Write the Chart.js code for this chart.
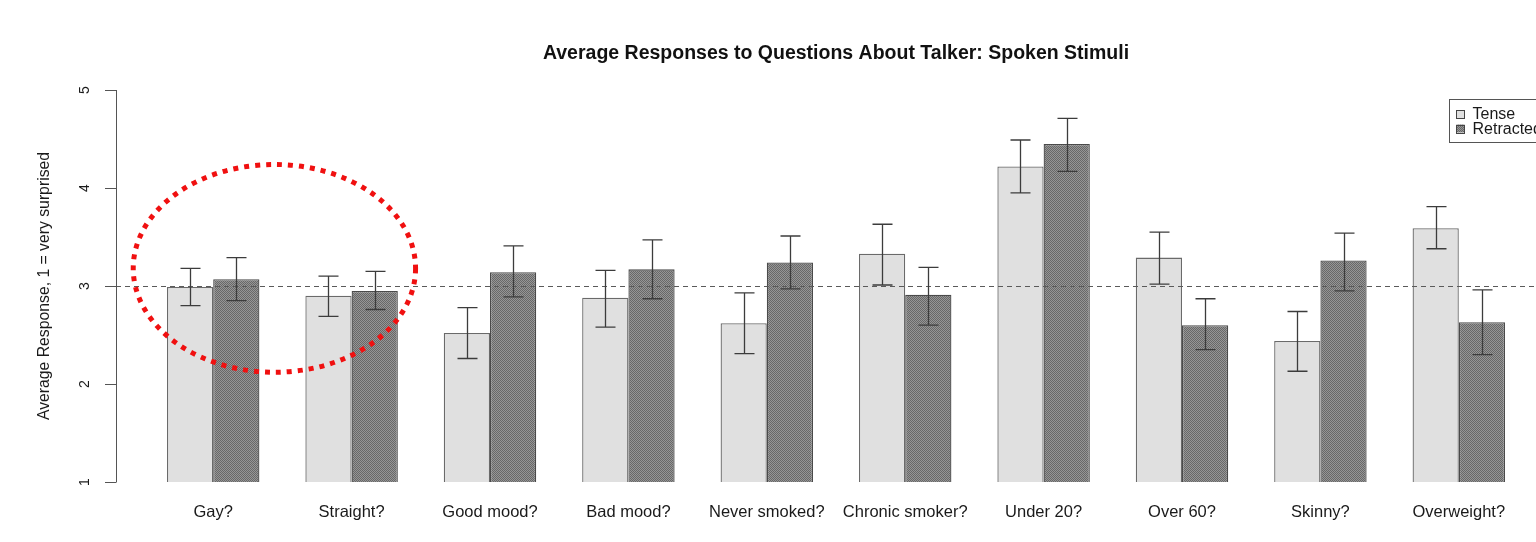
<!DOCTYPE html>
<html>
<head>
<meta charset="utf-8">
<title>Average Responses to Questions About Talker: Spoken Stimuli</title>
<script src="https://cdn.jsdelivr.net/npm/chart.js@4.4.1/dist/chart.umd.min.js"></script>
<style>
  html, body { margin: 0; padding: 0; background: #ffffff; overflow: hidden; }
  canvas { display: block; }
</style>
</head>
<body>
<canvas id="chart" width="1536" height="542"></canvas>
<script>
// Questions asked about the talker
const categories = ["Gay?", "Straight?", "Good mood?", "Bad mood?", "Never smoked?",
  "Chronic smoker?", "Under 20?", "Over 60?", "Skinny?", "Overweight?"];

// Mean responses per condition
const tenseMeans     = [2.99, 2.90, 2.52, 2.88, 2.62, 3.33, 4.22, 3.29, 2.44, 3.59];
const retractedMeans = [3.07, 2.95, 3.14, 3.17, 3.24, 2.91, 4.45, 2.60, 3.26, 2.63];

// Error bar limits (upper / lower) per condition
const tenseUpper     = [3.18, 3.10, 2.78, 3.16, 2.93, 3.63, 4.49, 3.55, 2.74, 3.81];
const tenseLower     = [2.80, 2.69, 2.26, 2.58, 2.31, 3.01, 3.95, 3.02, 2.13, 3.38];
const retractedUpper = [3.29, 3.15, 3.41, 3.47, 3.51, 3.19, 4.71, 2.87, 3.54, 2.96];
const retractedLower = [2.85, 2.76, 2.89, 2.87, 2.97, 2.60, 4.17, 2.35, 2.95, 2.30];

// Y axis ticks and the reference level
const yTicks = [1, 2, 3, 4, 5];
const referenceLevel = 3;

const seriesNames = ["Tense", "Retracted"];
const FONT = "'Liberation Sans', Arial, Helvetica, sans-serif";

// Fine stipple fill for the retracted bars
function stipple() {
  const c = document.createElement('canvas');
  c.width = 2; c.height = 2;
  const g = c.getContext('2d');
  g.fillStyle = '#969696'; g.fillRect(0, 0, 2, 2);
  g.fillStyle = '#686868'; g.fillRect(0, 0, 1, 1); g.fillRect(1, 1, 1, 1);
  return g.createPattern(c, 'repeat');
}
const ctx0 = document.getElementById('chart').getContext('2d');
const retractedFill = stipple();

const decorations = {
  id: 'decorations',
  afterDatasetsDraw(chart) {
    const { ctx, scales: { x, y } } = chart;
    const axisX = chart.chartArea.left - 28;

    ctx.save();

    // dashed reference line
    ctx.strokeStyle = '#5a5a5a';
    ctx.lineWidth = 1;
    ctx.setLineDash([5, 4]);
    ctx.beginPath();
    const ry = Math.round(y.getPixelForValue(referenceLevel)) + 0.5;
    ctx.moveTo(axisX, ry);
    ctx.lineTo(chart.width, ry);
    ctx.stroke();
    ctx.setLineDash([]);

    // error bars
    const limits = [[tenseUpper, tenseLower], [retractedUpper, retractedLower]];
    ctx.strokeStyle = '#3c3c3c';
    ctx.lineWidth = 1.3;
    limits.forEach(([hi, lo], d) => {
      chart.getDatasetMeta(d).data.forEach((bar, i) => {
        const cx = Math.round(bar.x) + 0.5;
        const yh = y.getPixelForValue(hi[i]);
        const yl = y.getPixelForValue(lo[i]);
        ctx.beginPath();
        ctx.moveTo(cx, yh); ctx.lineTo(cx, yl);
        ctx.moveTo(cx - 10, yh); ctx.lineTo(cx + 10, yh);
        ctx.moveTo(cx - 10, yl); ctx.lineTo(cx + 10, yl);
        ctx.stroke();
      });
    });

    // y axis line, ticks and rotated labels
    ctx.strokeStyle = '#555555';
    ctx.lineWidth = 1;
    ctx.beginPath();
    ctx.moveTo(axisX + 0.5, y.getPixelForValue(yTicks[0]));
    ctx.lineTo(axisX + 0.5, y.getPixelForValue(yTicks[yTicks.length - 1]));
    yTicks.forEach(t => {
      const py = Math.round(y.getPixelForValue(t)) + 0.5;
      ctx.moveTo(axisX - 11, py);
      ctx.lineTo(axisX + 0.5, py);
    });
    ctx.stroke();

    ctx.fillStyle = '#1a1a1a';
    ctx.font = '14px ' + FONT;
    ctx.textAlign = 'center';
    ctx.textBaseline = 'middle';
    yTicks.forEach(t => {
      ctx.save();
      ctx.translate(axisX - 31, y.getPixelForValue(t));
      ctx.rotate(-Math.PI / 2);
      ctx.fillText(String(t), 0, 0);
      ctx.restore();
    });

    // y axis title
    ctx.save();
    ctx.font = '15.75px ' + FONT;
    ctx.translate(axisX - 71, (y.top + y.bottom) / 2);
    ctx.rotate(-Math.PI / 2);
    ctx.fillText('Average Response, 1 = very surprised', 0, 0);
    ctx.restore();

    // legend box
    const lx = 1449.5, ly = 99.5;
    ctx.strokeStyle = '#555555';
    ctx.lineWidth = 1;
    ctx.strokeRect(lx, ly, 140, 43);
    const fills = ['#e0e0e0', retractedFill];
    seriesNames.forEach((name, k) => {
      const cy = 114 + k * 14.5;
      ctx.fillStyle = fills[k];
      ctx.fillRect(lx + 7, cy - 4, 8, 8);
      ctx.strokeStyle = '#444444';
      ctx.strokeRect(lx + 7, Math.round(cy - 4) + 0.5, 8, 8);
      ctx.fillStyle = '#1a1a1a';
      ctx.font = '16px ' + FONT;
      ctx.textAlign = 'left';
      ctx.fillText(name, lx + 23, cy + 1);
    });

    // dotted highlight around the first two groups
    const x0 = x.getPixelForValue(0), x1 = x.getPixelForValue(1);
    const step = x1 - x0;
    ctx.strokeStyle = '#f01010';
    ctx.lineWidth = 5;
    ctx.setLineDash([5, 6]);
    ctx.beginPath();
    ctx.ellipse((x0 + x1) / 2 - 8, y.getPixelForValue(3.18),
                step * 1.02, (y.getPixelForValue(2) - y.getPixelForValue(3)) * 1.06,
                0, 0, Math.PI * 2);
    ctx.stroke();
    ctx.setLineDash([]);

    ctx.restore();
  }
};

new Chart(ctx0, {
  type: 'bar',
  data: {
    labels: categories,
    datasets: [
      {
        label: seriesNames[0],
        data: tenseMeans,
        backgroundColor: '#e0e0e0',
        borderColor: '#6a6a6a',
        borderWidth: 1.3,
        categoryPercentage: 0.668,
        barPercentage: 1.0
      },
      {
        label: seriesNames[1],
        data: retractedMeans,
        backgroundColor: retractedFill,
        borderColor: '#4a4a4a',
        borderWidth: 1.3,
        categoryPercentage: 0.668,
        barPercentage: 1.0
      }
    ]
  },
  options: {
    responsive: false,
    animation: false,
    devicePixelRatio: 1,
    layout: { padding: { left: 144, right: 8, top: 0, bottom: 0 } },
    plugins: {
      legend: { display: false },
      tooltip: { enabled: false },
      title: {
        display: true,
        fullSize: false,
        text: 'Average Responses to Questions About Talker: Spoken Stimuli',
        color: '#111111',
        font: { family: FONT, size: 19.5, weight: 'bold' },
        padding: { top: 42, bottom: 24.6 }
      }
    },
    scales: {
      x: {
        grid: { display: false, drawTicks: false },
        border: { display: false },
        ticks: {
          color: '#1a1a1a',
          font: { family: FONT, size: 16.5 },
          padding: 21,
          maxRotation: 0,
          autoSkip: false
        },
        afterFit(scale) { scale.height = 60; }
      },
      y: {
        display: false,
        min: 1,
        max: 5
      }
    }
  },
  plugins: [decorations]
});
</script>
</body>
</html>
